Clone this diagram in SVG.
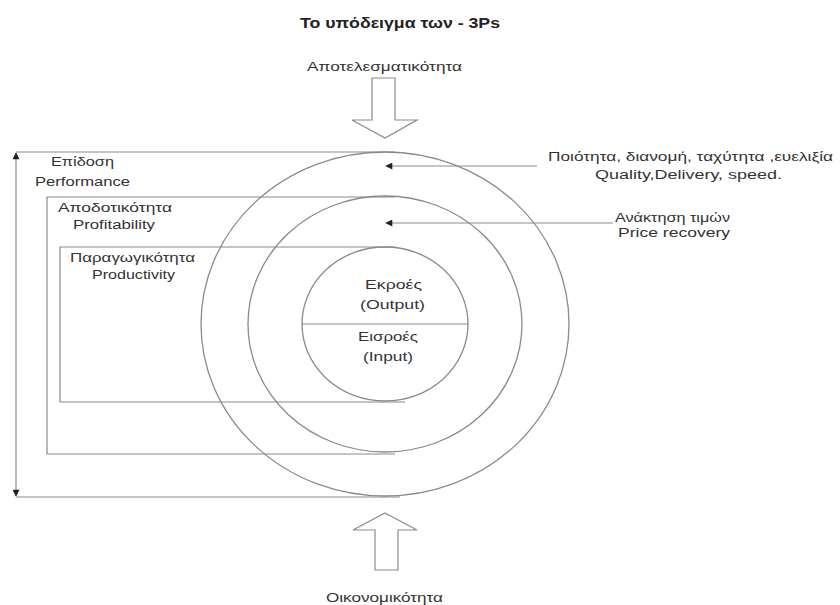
<svg xmlns="http://www.w3.org/2000/svg" width="840" height="605" viewBox="0 0 840 605">
<style>
text{font-family:"Liberation Sans",Arial,sans-serif;fill:#333;font-size:12.5px}
.title{font-weight:bold;font-size:14px;fill:#222}
.ln{stroke:#8a8a8a;stroke-width:1.2;fill:none}
.ring{stroke:#8a8a8a;stroke-width:1.3;fill:none}
.big{stroke:#8a8a8a;stroke-width:1.2;fill:#fff}
</style>
<defs>
<marker id="ah" viewBox="0 0 10 10" refX="9" refY="5" markerWidth="9" markerHeight="7" orient="auto-start-reverse" markerUnits="userSpaceOnUse">
<path d="M10,5 L0,0 L0,10 Z" fill="#222"/>
</marker>
</defs>
<rect width="840" height="605" fill="#fff"/>
<g id="title"><text class="title" x="300" y="28" textLength="200" lengthAdjust="spacingAndGlyphs">Το υπόδειγμα των - 3Ps</text></g>
<g id="rings">
<ellipse class="ring" cx="385" cy="324" rx="184" ry="172"/>
<ellipse class="ring" cx="385" cy="324" rx="137" ry="128"/>
<ellipse class="ring" cx="385" cy="324" rx="83" ry="77"/>
<line class="ln" x1="302" y1="324" x2="468" y2="324"/>
</g>
<g id="connectors">
<polyline class="ln" points="395,152 16,152"/>
<polyline class="ln" points="400,497 16,497"/>
<line class="ln" x1="16" y1="153" x2="16" y2="496" marker-start="url(#ah)" marker-end="url(#ah)"/>
<polyline class="ln" points="395,197 47,197 47,454 395,454"/>
<polyline class="ln" points="395,247 60,247 60,402 405,402"/>
<line class="ln" x1="537" y1="166" x2="386" y2="166" marker-end="url(#ah)"/>
<line class="ln" x1="613" y1="223" x2="386" y2="223" marker-end="url(#ah)"/>
</g>
<g id="effectiveness">
<text x="307" y="71" textLength="155" lengthAdjust="spacingAndGlyphs">Αποτελεσματικότητα</text>
<polygon class="big" points="372,78 395,78 395,120 417,120 385,138 352,120 372,120"/>
</g>
<g id="economy">
<polygon class="big" points="385,513 417,530 398,530 398,570 375,570 375,530 353,530"/>
<text x="326" y="602" textLength="117" lengthAdjust="spacingAndGlyphs">Οικονομικότητα</text>
</g>
<g id="performance">
<text x="51" y="166" textLength="63" lengthAdjust="spacingAndGlyphs">Επίδοση</text>
<text x="35" y="186" textLength="95" lengthAdjust="spacingAndGlyphs">Performance</text>
</g>
<g id="profitability">
<text x="58" y="212" textLength="114" lengthAdjust="spacingAndGlyphs">Αποδοτικότητα</text>
<text x="73" y="229" textLength="82" lengthAdjust="spacingAndGlyphs">Profitability</text>
</g>
<g id="productivity">
<text x="70" y="262" textLength="125" lengthAdjust="spacingAndGlyphs">Παραγωγικότητα</text>
<text x="92" y="279" textLength="83" lengthAdjust="spacingAndGlyphs">Productivity</text>
</g>
<g id="quality">
<text x="548" y="161" textLength="285" lengthAdjust="spacingAndGlyphs">Ποιότητα, διανομή, ταχύτητα ,ευελιξία</text>
<text x="595" y="179" textLength="187" lengthAdjust="spacingAndGlyphs">Quality,Delivery, speed.</text>
</g>
<g id="price-recovery">
<text x="615" y="222" textLength="115" lengthAdjust="spacingAndGlyphs">Ανάκτηση τιμών</text>
<text x="618" y="237" textLength="112" lengthAdjust="spacingAndGlyphs">Price recovery</text>
</g>
<g id="output-input">
<text x="365" y="289" textLength="57" lengthAdjust="spacingAndGlyphs">Εκροές</text>
<text x="360" y="309" textLength="65" lengthAdjust="spacingAndGlyphs">(Output)</text>
<text x="358" y="341" textLength="60" lengthAdjust="spacingAndGlyphs">Εισροές</text>
<text x="363" y="361" textLength="50" lengthAdjust="spacingAndGlyphs">(Input)</text>
</g>
</svg>
